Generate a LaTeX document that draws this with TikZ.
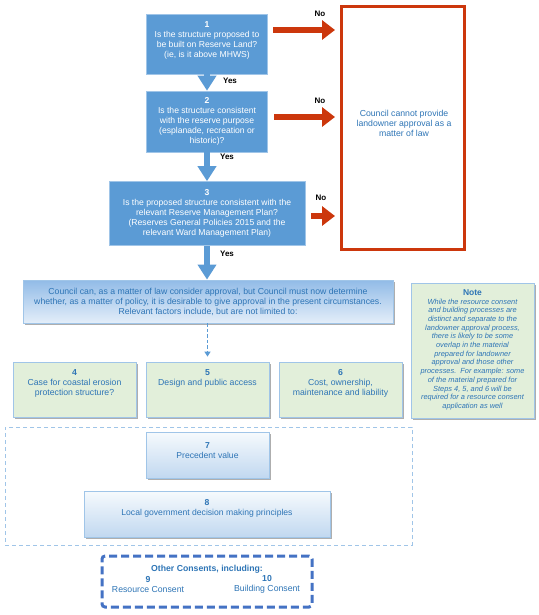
\documentclass[tikz,border=0pt]{standalone}
\usepackage{fontspec}
\setmainfont{Liberation Sans}
\usetikzlibrary{arrows.meta,shadows}
\definecolor{boxblue}{RGB}{91,155,213}
\definecolor{edgeblue}{RGB}{160,197,232}
\definecolor{txtblue}{RGB}{46,117,182}
\definecolor{redc}{RGB}{204,55,12}
\definecolor{greenf}{RGB}{226,239,218}
\definecolor{consent}{RGB}{68,114,196}
\definecolor{gradtop}{RGB}{145,187,231}
\definecolor{gradbot}{RGB}{228,238,249}
\definecolor{gradtopb}{RGB}{246,250,253}
\definecolor{gradbotb}{RGB}{193,216,240}
\newcommand{\tbx}[4]{\parbox[c][#2][t]{#1}{\centering\vspace*{#3}#4}}
\tikzset{
  qbox/.style={draw=edgeblue, line width=0.6pt, fill=boxblue, text=white, align=center,
    font=\fontsize{8.6}{10}\selectfont, inner sep=0pt},
  shad/.style={drop shadow={shadow xshift=1.8pt, shadow yshift=-1.8pt, fill=black!45, opacity=0.7}},
  gbox/.style={shad, draw=edgeblue, line width=0.8pt, fill=greenf, text=txtblue, inner sep=0pt,
    font=\fontsize{8.7}{10}\selectfont},
  gradbox/.style={shad, draw=edgeblue, line width=0.8pt, top color=gradtopb, bottom color=gradbotb,
    text=txtblue, inner sep=0pt, font=\fontsize{8.6}{10}\selectfont},
  bigbox/.style={shad, draw=edgeblue, line width=0.8pt, top color=gradtop, bottom color=gradbot,
    text=txtblue, align=center, inner sep=0pt, font=\fontsize{8.7}{10}\selectfont},
  redarrow/.style={draw=redc, line width=5.5pt, -{Triangle[width=19pt,length=13pt]}, shorten >=5pt},
  bluearrow/.style={draw=boxblue, line width=6pt, -{Triangle[width=18pt,length=15pt]}},
  nolab/.style={font=\bfseries\fontsize{8}{9}\selectfont, text=black, inner sep=0pt},
}
\begin{document}
\begin{tikzpicture}[x=1pt,y=-1pt]
\useasboundingbox[fill=white] (0,0) rectangle (538,615);

% question boxes
\node[qbox] (b1) at (207,44)
  {\parbox[c][60pt][c]{121pt}{\centering\textbf{1}\\Is the structure proposed to\\be built on Reserve Land?\\(ie, is it above MHWS)\par\vspace{8pt}}};
\node[qbox, minimum width=121pt, minimum height=61pt] (b2) at (207,121.5)
  {\textbf{2}\\Is the structure consistent\\with the reserve purpose\\(esplanade, recreation or\\historic)?};
\node[qbox, minimum width=196pt, minimum height=64pt] (b3) at (207,213.5)
  {\textbf{3}\\Is the proposed structure consistent with the\\relevant Reserve Management Plan?\\(Reserves General Policies 2015 and the\\relevant Ward Management Plan)};

% red box
\node[draw=redc, line width=3pt, minimum width=123pt, minimum height=243pt, inner sep=0pt] (R) at (403,128) {};
\node[text=txtblue, align=center, font=\fontsize{8.7}{10}\selectfont] (Rt) at (404,123)
  {Council cannot provide\\landowner approval as a\\matter of law};

% red arrows
\coordinate (r1) at (273,30);
\coordinate (r2) at (274,117);
\coordinate (r3) at (311,216);
\draw[redarrow] (r1) -- (r1 -| R.west);
\draw[redarrow] (r2) -- (r2 -| R.west);
\draw[redarrow] (r3) -- (r3 -| R.west);
\node[nolab] (n1) at (320,14) {No};
\node[nolab] (n2) at (320,101) {No};
\node[nolab] (n3) at (321,198) {No};

% big box
\node[bigbox, minimum width=370pt, minimum height=43pt] (C) at (208,301.5)
  {Council can, as a matter of law consider approval, but Council must now determine\\
   whether, as a matter of policy, it is desirable to give approval in the present circumstances.\\
   Relevant factors include, but are not limited to:};

% blue arrows
\draw[bluearrow] (b1.south) -- (b2.north);
\draw[bluearrow] (b2.south) -- (b3.north);
\draw[bluearrow] (b3.south) -- (b3.south |- C.north);
\node[nolab] (y1) at (230,81) {Yes};
\node[nolab] (y2) at (227,157) {Yes};
\node[nolab] (y3) at (227,254) {Yes};

% factor boxes
\node[gbox] (b4) at (74.5,389.5) {\tbx{123pt}{55pt}{7.5pt}{\textbf{4}\\Case for coastal erosion\\protection structure?}};
\node[gbox] (b5) at (207.5,389.5) {\tbx{123pt}{55pt}{7.5pt}{\textbf{5}\\Design and public access}};
\node[gbox] (b6) at (340.5,389.5) {\tbx{123pt}{55pt}{7.5pt}{\textbf{6}\\Cost, ownership,\\maintenance and liability}};

\draw[boxblue, line width=1.2pt, dash pattern=on 3.5pt off 2pt, -{Triangle[width=6pt,length=5pt]}]
  (C.south -| b5.north) -- ([yshift=5pt]b5.north);

% note
\node[gbox] (note) at (472.5,350.5) {\parbox[c][135pt][t]{123pt}{\centering\vspace*{7pt}%
  {\bfseries\fontsize{8.5}{9}\selectfont Note}\\[-0.5pt]
  {\itshape\fontsize{7.4}{8.7}\selectfont While the resource consent\\and building processes are\\distinct and separate to the\\landowner approval process,\\there is likely to be some\\overlap in the material\\prepared for landowner\\approval and those other\\processes.\ \ For example: some\\of the material prepared for\\Steps 4, 5, and 6 will be\\required for a resource consent\\application as well\par}}};

% outer dashed group
\node[draw=edgeblue, line width=0.9pt, dash pattern=on 4pt off 3pt, minimum width=407pt, minimum height=118pt, inner sep=0pt] (G) at (208.5,486) {};

\node[gradbox] (b7) at (207.5,455) {\tbx{123pt}{46pt}{11pt}{\textbf{7}\\Precedent value}};
\node[gradbox] (b8) at (207,514) {\tbx{246pt}{46pt}{8.5pt}{\textbf{8}\\Local government decision making principles}};

% other consents
\node[draw=consent, line width=3pt, dash pattern=on 8pt off 4pt, rounded corners=3pt, minimum width=210pt, minimum height=51pt, inner sep=0pt] (OC) at (207,581.5) {};
\node[text=txtblue, font=\bfseries\fontsize{8.7}{9}\selectfont, inner sep=0pt] (OCt) at (207,569) {Other Consents, including:};
\node[text=txtblue, align=center, font=\fontsize{8.7}{10}\selectfont, inner sep=0pt] (c9) at (148,584) {\textbf{9}\\Resource Consent};
\node[text=txtblue, align=center, font=\fontsize{8.7}{10}\selectfont, inner sep=0pt] (c10) at (267,584) {\textbf{10}\\Building Consent};
\end{tikzpicture}
\end{document}
